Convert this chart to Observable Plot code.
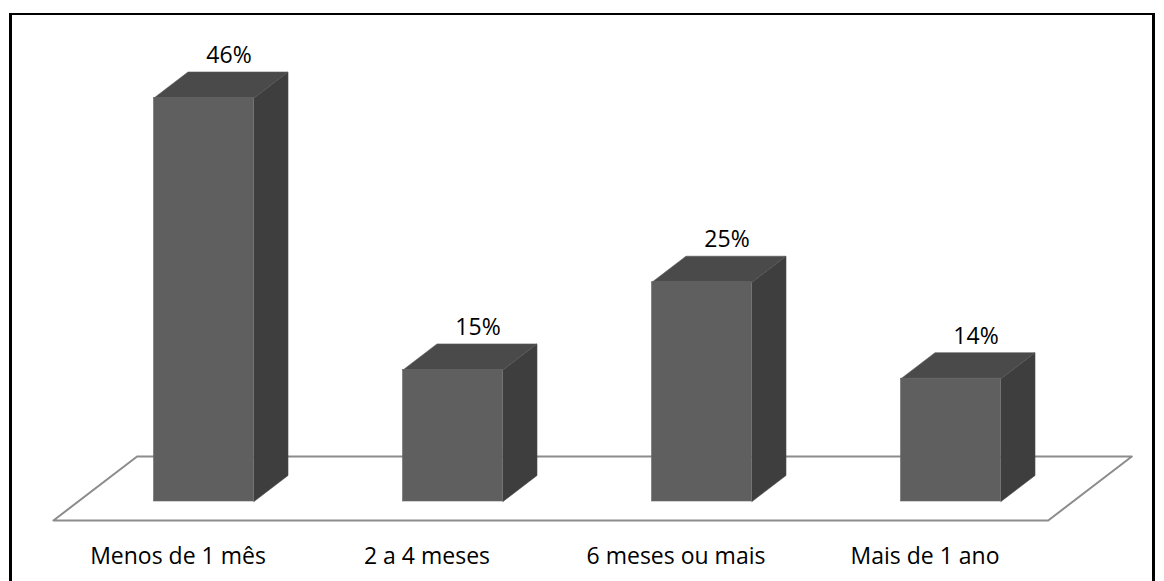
<!DOCTYPE html>
<html>
<head>
<meta charset="utf-8">
<script src="https://cdn.jsdelivr.net/npm/d3@7"></script>
<script src="https://cdn.jsdelivr.net/npm/@observablehq/plot@0.6"></script>
<style>
  html, body { margin: 0; padding: 0; background: #fff; }
  #chart { position: relative; width: 1164px; height: 581px; overflow: hidden; }
  #chart svg { position: absolute; left: 0; top: 0; }
  #frame {
    position: absolute; left: 9px; top: 13px; width: 1140px; height: 600px;
    border-style: solid; border-color: #000; border-width: 2px 3px 0 3px;
    pointer-events: none;
  }
</style>
</head>
<body>
<div id="chart"><div id="frame"></div></div>
<script>
// Tempo (share of answers, %)
const categories = ["Menos de 1 mês", "2 a 4 meses", "6 meses ou mais", "Mais de 1 ano"];
const values = [46, 15, 25, 14];
const valueLabels = ["46%", "15%", "25%", "14%"];

// Layout of the pseudo-3D drawing
const width = 1164, height = 581;
const xRange = [203.5, 950.5];        // centres of the first and last bar front
const yRange = [501, 97.5];           // baseline and top of the tallest bar
const yMax = d3.max(values);
const pxPerX = (xRange[1] - xRange[0]) / (categories.length - 1);
const pxPerY = (yRange[0] - yRange[1]) / yMax;
const depthPx = [34, 26];             // oblique offset of the bar back faces
const barHalf = 50 / pxPerX;          // half of the 100px bar front
const floorFront = -0.73, floorBack = 1.73;   // floor depth, in bar depths

// oblique projection: a depth z moves a point right and up
const proj = (x, y, z) => ({x: x + z * depthPx[0] / pxPerX, y: y + z * depthPx[1] / pxPerY});

const bars = categories.map((c, i) => ({i, category: c, value: values[i], label: valueLabels[i]}));

const sideFaces = bars.flatMap(b => [
  proj(b.i + barHalf, 0, 0), proj(b.i + barHalf, 0, 1),
  proj(b.i + barHalf, b.value, 1), proj(b.i + barHalf, b.value, 0)
].map(p => ({...p, key: b.i})));

const topFaces = bars.flatMap(b => [
  proj(b.i - barHalf, b.value, 0), proj(b.i - barHalf, b.value, 1),
  proj(b.i + barHalf, b.value, 1), proj(b.i + barHalf, b.value, 0)
].map(p => ({...p, key: b.i})));

const floorLeft = -0.505, floorRight = categories.length - 0.51;
const floor = [
  proj(floorLeft, 0, floorFront), proj(floorLeft, 0, floorBack),
  proj(floorRight, 0, floorBack), proj(floorRight, 0, floorFront)
];

const font = "'Open Sans', Lato, sans-serif";
const fontSize = 23;

const chart = Plot.plot({
  width, height,
  marginTop: 0, marginLeft: 0, marginRight: 0, marginBottom: 40,
  style: {fontFamily: font, background: "transparent", color: "#000"},
  x: {type: "linear", domain: [0, categories.length - 1], range: xRange},
  y: {type: "linear", domain: [0, yMax], range: yRange, axis: null},
  marks: [
    Plot.line(floor, {x: "x", y: "y", curve: "linear-closed", fill: "#fff", stroke: "#8c8c8c", strokeWidth: 2}),
    Plot.line(sideFaces, {x: "x", y: "y", z: "key", curve: "linear-closed", fill: "#3e3e3e", stroke: "#4a4a4a", strokeWidth: 0.6}),
    Plot.line(topFaces, {x: "x", y: "y", z: "key", curve: "linear-closed", fill: "#4a4a4a", stroke: "#575757", strokeWidth: 0.6}),
    Plot.rect(bars, {x1: d => d.i - barHalf, x2: d => d.i + barHalf, y1: 0, y2: "value", fill: "#5f5f5f", stroke: "#6a6a6a", strokeWidth: 0.6}),
    Plot.text(bars, {
      x: "i", y: d => proj(d.i, d.value, 1).y, text: "label",
      dx: 25, dy: -9, lineAnchor: "bottom", textAnchor: "middle",
      fontSize, fill: "#000"
    }),
    Plot.axisX({
      ticks: d3.range(categories.length), tickFormat: i => categories[i],
      tickSize: 0, tickPadding: 6.4, dx: -26, fontSize, fill: "#000"
    })
  ]
});

document.getElementById("chart").prepend(chart);
</script>
</body>
</html>
